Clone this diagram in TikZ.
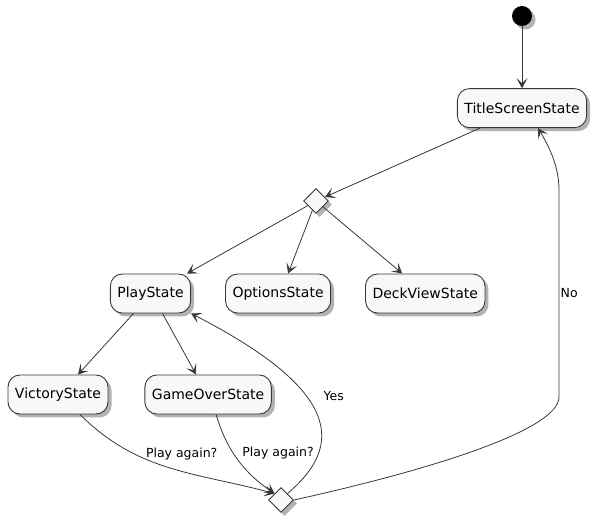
\documentclass[tikz,border=0pt]{standalone}
\usepackage{fontspec}
\setmainfont{DejaVu Sans}
\usetikzlibrary{shapes,arrows.meta,positioning,shadows}

\definecolor{linegray}{HTML}{383838}
\definecolor{statefill}{HTML}{F8F8F8}

\tikzset{
    shade/.style={drop shadow={shadow xshift=3.5pt, shadow yshift=-3.5pt, opacity=0.3, fill=black}},
    state/.style={rectangle, rounded corners=12pt, draw=linegray, line width=0.9pt, fill=statefill,
        minimum height=39pt, inner xsep=7pt, font=\fontsize{14}{16}\selectfont, shade},
    choice/.style={diamond, draw=linegray, line width=0.9pt, fill=statefill, minimum width=25pt,
        minimum height=25pt, inner sep=0pt, shade},
    startdot/.style={circle, fill=black, minimum size=20pt, inner sep=0pt, shade},
    trans/.style={draw=linegray, line width=0.8pt, -{Stealth[length=10pt, width=11pt, inset=5pt]}},
    edgetext/.style={font=\fontsize{12.5}{14}\selectfont, text=black}
}

\begin{document}
\begin{tikzpicture}[x=1pt, y=1pt]

    \useasboundingbox (0,0) rectangle (603,-521);

    	%-----States-----
        % Start
        \node [startdot] (start) at (522,-16) {};

        % Title Screen State
        \node [state, below=62pt of start] (title) {TitleScreenState};

        % Menu Choice
        \node [choice] (menu) at (316,-201) {};

        % Play State
        \node [state] (play) at (150.5,-293.5) {PlayState};

        % Options State
        \node [state, right=34pt of play] (options) {OptionsState};

        % Deck View State
        \node [state, right=34pt of options] (deck) {DeckViewState};

        % Victory State
        \node [state] (victory) at (58,-394.5) {VictoryState};

        % Game Over State
        \node [state, right=36pt of victory] (gameover) {GameOverState};

        % Replay Choice
        \node [choice] (replay) at (281,-500) {};

        % bend points of the "No" line
        \coordinate (nolow) at (559,-397);
        \coordinate (nohigh) at (559,-190);

    	%-----Transitions-----
        \draw [trans] (start) -- (title);
        \draw [trans] ([xshift=-42pt]title.south) -- (menu);
        \draw [trans] (menu) -- ([xshift=-4pt]play.north east);
        \draw [trans] (menu) -- ([xshift=10pt]options.north);
        \draw [trans] (menu) -- ([xshift=-23pt]deck.north);
        \draw [trans] ([xshift=-17pt]play.south) -- ([xshift=20pt]victory.north);
        \draw [trans] ([xshift=12pt]play.south) -- ([xshift=-12pt]gameover.north);

        \draw [trans] ([xshift=22pt]victory.south) to[out=-45, in=165]
            node [edgetext, pos=0.5, anchor=south west, xshift=-27pt, yshift=4pt] {Play again?} (replay.north west);
        \draw [trans] ([xshift=8pt]gameover.south) .. controls (225,-445) and (240,-470) ..
            node [edgetext, pos=0.5, anchor=west, xshift=3pt, yshift=4pt] {Play again?} (replay.north west);

        \draw [trans] (replay.north east) .. controls (345,-445) and (340,-390) ..
            node [edgetext, pos=0.6, anchor=west, xshift=14pt] {Yes} (play.south east);

        \draw [trans] (replay.east) .. controls (430,-470) and (559,-430) .. (nolow) -- (nohigh)
            node [edgetext, midway, right=-2pt] {No}
            .. controls (559,-165) and (548,-145) .. ([xshift=16pt]title.south);

\end{tikzpicture}
\end{document}
